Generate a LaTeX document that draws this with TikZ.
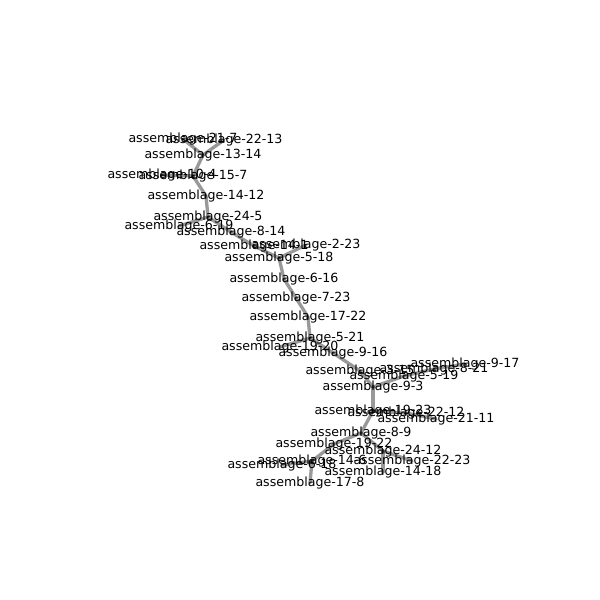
\documentclass[tikz,border=0pt]{standalone}
\usepackage{fontspec}
\setmainfont{DejaVu Sans}
\usetikzlibrary{backgrounds}

\tikzset{
  asm/.style={inner sep=0pt, font=\fontsize{9.1}{11}\selectfont},
  link/.style={draw=black, line width=2.4pt, opacity=0.4, line cap=round},
}

\begin{document}
\begin{tikzpicture}[x=0.01in, y=-0.01in]
\useasboundingbox (0,0) rectangle (600,600);

\node[asm] (a21-7)  at (183,139) {assemblage-21-7};
\node[asm] (a22-13) at (224,140) {assemblage-22-13};
\node[asm] (a13-14) at (203,155) {assemblage-13-14};
\node[asm] (a10-4)  at (162,175) {assemblage-10-4};
\node[asm] (a15-7)  at (193,176) {assemblage-15-7};
\node[asm] (a14-12) at (206,196) {assemblage-14-12};
\node[asm] (a24-5)  at (208,217) {assemblage-24-5};
\node[asm] (a6-19)  at (179,226) {assemblage-6-19};
\node[asm] (a8-14)  at (231,232) {assemblage-8-14};
\node[asm] (a14-1)  at (254,246) {assemblage-14-1};
\node[asm] (a2-23)  at (306,245) {assemblage-2-23};
\node[asm] (a5-18)  at (279,258) {assemblage-5-18};
\node[asm] (a6-16)  at (284,279) {assemblage-6-16};
\node[asm] (a7-23)  at (296,298) {assemblage-7-23};
\node[asm] (a17-22) at (308,317) {assemblage-17-22};
\node[asm] (a5-21)  at (310,338) {assemblage-5-21};
\node[asm] (a19-20) at (280,347) {assemblage-19-20};
\node[asm] (a9-16)  at (333,353) {assemblage-9-16};
\node[asm] (a3-15)  at (360,371) {assemblage-3-15};
\node[asm] (a8-21)  at (434,369) {assemblage-8-21};
\node[asm] (a9-17)  at (465,364) {assemblage-9-17};
\node[asm] (a5-19)  at (404,376) {assemblage-5-19};
\node[asm] (a9-3)   at (373,387) {assemblage-9-3};
\node[asm] (a19-23) at (373,411) {assemblage-19-23};
\node[asm] (a22-12) at (406,413) {assemblage-22-12};
\node[asm] (a21-11) at (436,419) {assemblage-21-11};
\node[asm] (a8-9)   at (361,433) {assemblage-8-9};
\node[asm] (a19-22) at (334,444) {assemblage-19-22};
\node[asm] (a24-12) at (383,451) {assemblage-24-12};
\node[asm] (a14-6)  at (312,461) {assemblage-14-6};
\node[asm] (a6-18)  at (282,465) {assemblage-6-18};
\node[asm] (a22-23) at (412,461) {assemblage-22-23};
\node[asm] (a14-18) at (383,472) {assemblage-14-18};
\node[asm] (a17-8)  at (310,483) {assemblage-17-8};

\begin{scope}[on background layer]
\foreach \u/\v in {21-7/13-14, 22-13/13-14, 13-14/15-7, 10-4/15-7,
  15-7/14-12, 14-12/24-5, 6-19/24-5, 24-5/8-14, 8-14/14-1, 14-1/5-18,
  2-23/5-18, 5-18/6-16, 6-16/7-23, 7-23/17-22, 17-22/5-21, 19-20/5-21,
  5-21/9-16, 9-16/3-15, 3-15/9-3, 9-3/5-19, 5-19/8-21, 8-21/9-17,
  9-3/19-23, 19-23/22-12, 22-12/21-11, 19-23/8-9, 8-9/19-22, 8-9/24-12,
  19-22/14-6, 14-6/6-18, 14-6/17-8, 24-12/22-23, 24-12/14-18}
  \draw[link] (a\u.center) -- (a\v.center);
\end{scope}

\end{tikzpicture}
\end{document}
